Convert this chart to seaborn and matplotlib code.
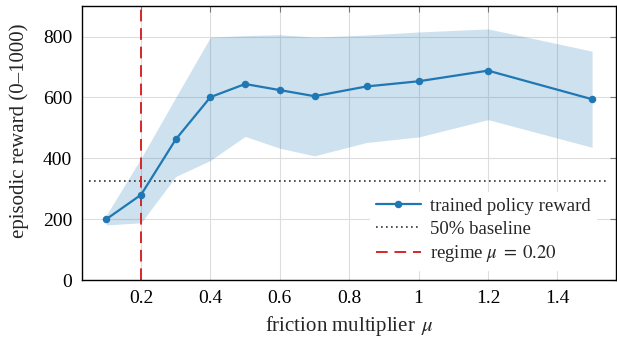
import matplotlib
matplotlib.use("Agg")
import matplotlib.pyplot as plt
import seaborn as sns
import numpy as np
import pandas as pd

# data
mu = [0.1, 0.2, 0.3, 0.4, 0.5, 0.6, 0.7, 0.85, 1.0, 1.2, 1.5]
reward = [200, 280, 462, 601, 644, 624, 604, 636, 653, 688, 594]
upper = [213, 400, 600, 798, 803, 806, 798, 805, 815, 825, 752]
lower = [181, 188, 340, 393, 472, 433, 408, 452, 470, 527, 436]
baseline = 326
baseline_x = [0.05, 1.55]
regime_mu = 0.20
xticks = [0.2, 0.4, 0.6, 0.8, 1.0, 1.2, 1.4]
xticklabels = ["0.2", "0.4", "0.6", "0.8", "1", "1.2", "1.4"]
yticks = [0, 200, 400, 600, 800]

sns.set_style("whitegrid")
plt.rcParams['font.family'] = ['Liberation Serif', 'DejaVu Serif']
plt.rcParams['mathtext.fontset'] = 'stix'

df = pd.DataFrame({"mu": mu, "reward": reward})
blue = "#1f77b4"

fig = plt.figure(figsize=(6.17, 3.39), dpi=100)
ax = fig.add_axes([0.133, 0.174, 0.866, 0.808])

ax.fill_between(mu, lower, upper, color=blue, alpha=0.22, linewidth=0, zorder=1)
sns.lineplot(data=df, x="mu", y="reward", ax=ax, color=blue, marker="o",
             markersize=5.4, markeredgewidth=0, linewidth=1.6,
             label="trained policy reward", zorder=3)
ax.plot(baseline_x, [baseline, baseline], color="#333333",
        linestyle=(0, (1, 2)), linewidth=1.2, label="50% baseline", zorder=2)
ax.axvline(regime_mu, color="#d62728", linestyle=(0, (6, 3.5)), linewidth=1.4,
           label=r"regime $\mu\;=\;0.20$", zorder=2)

ax.set_xlim(0.03, 1.57)
ax.set_ylim(0, 900)
ax.set_xticks(xticks)
ax.set_xticklabels(xticklabels)
ax.set_yticks(yticks)
ax.grid(True, color="#dddddd", linewidth=0.8)
for s in ax.spines.values():
    s.set_color("black")
    s.set_linewidth(1.0)
ax.tick_params(direction="in", length=4, color="#777777", labelsize=14,
               top=True, right=True, labelcolor="black", pad=7)
ax.set_xlabel(r"friction multiplier $\,\mu$", fontsize=15, labelpad=5)
ax.set_ylabel("episodic reward (0–1000)", fontsize=15)
ax.yaxis.set_label_coords(-0.100, 0.544)

leg = ax.legend(loc="lower right", bbox_to_anchor=(0.98, 0.003), fontsize=13.5,
                frameon=True, fancybox=False, edgecolor="white",
                framealpha=1.0, handlelength=2.4, borderpad=0.3,
                labelspacing=0.3, handletextpad=0.5)

fig.savefig("out.png", dpi=100)
